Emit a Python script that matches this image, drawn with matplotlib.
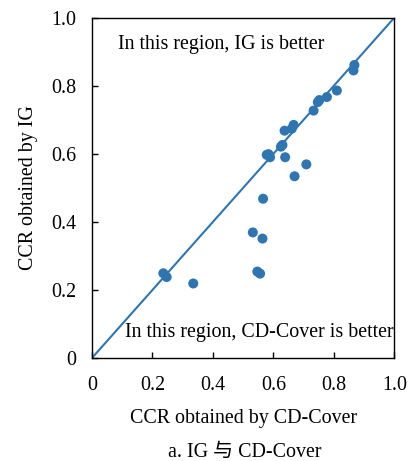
import numpy as np
import matplotlib.pyplot as plt
from matplotlib.ticker import FuncFormatter

plt.rcParams['font.family'] = ['Liberation Serif', 'Noto Sans CJK SC']
plt.rcParams['font.size'] = 14.4

# CCR of CD-Cover (x) vs IG (y)
ccr_cdcover = [0.236, 0.247, 0.335, 0.532, 0.564, 0.547, 0.556, 0.566, 0.670, 0.709,
               0.639, 0.578, 0.589, 0.584, 0.625, 0.630, 0.637, 0.661, 0.667, 0.733,
               0.747, 0.752, 0.777, 0.810, 0.865, 0.868]
ccr_ig = [0.249, 0.238, 0.219, 0.369, 0.351, 0.254, 0.248, 0.468, 0.534, 0.569,
          0.590, 0.597, 0.590, 0.599, 0.621, 0.626, 0.668, 0.674, 0.685, 0.727,
          0.752, 0.758, 0.767, 0.786, 0.845, 0.861]
ticks = [0, 0.2, 0.4, 0.6, 0.8, 1.0]

color = '#2e75b2'

fig = plt.figure(figsize=(4.11, 4.61), dpi=100)
ax = fig.add_axes([0.2238, 0.2234, 0.7356, 0.7382])

ax.plot([0, 1], [0, 1], color=color, lw=1.5)
ax.scatter(ccr_cdcover, ccr_ig, s=52, color=color, zorder=3, edgecolors='none')

ax.set_xlim(0, 1)
ax.set_ylim(0, 1)
ax.set_xticks(ticks)
ax.set_yticks(ticks)
fmt = FuncFormatter(lambda v, p: '0' if v == 0 else f'{v:.1f}')
ax.xaxis.set_major_formatter(fmt)
ax.yaxis.set_major_formatter(fmt)
ax.tick_params(direction='in', length=4, width=1, labelsize=14.4)
ax.tick_params(axis='x', pad=13)
ax.tick_params(axis='y', pad=11)
for s in ax.spines.values():
    s.set_linewidth(1.0)

ax.text(0.086, 0.92, 'In this region, IG is better', va='center', ha='left', fontsize=14.4)
ax.text(0.109, 0.076, 'In this region, CD-Cover is better', va='center', ha='left', fontsize=14.4)

ax.set_xlabel('CCR obtained by CD-Cover', fontsize=14.4, labelpad=10)
ax.set_ylabel('CCR obtained by IG', fontsize=14.4, labelpad=10)

fig.text(0.596, 1 - 452 / 461, 'a. IG 与 CD-Cover', ha='center', va='center', fontsize=14.4)

fig.savefig('out.png', dpi=100)
